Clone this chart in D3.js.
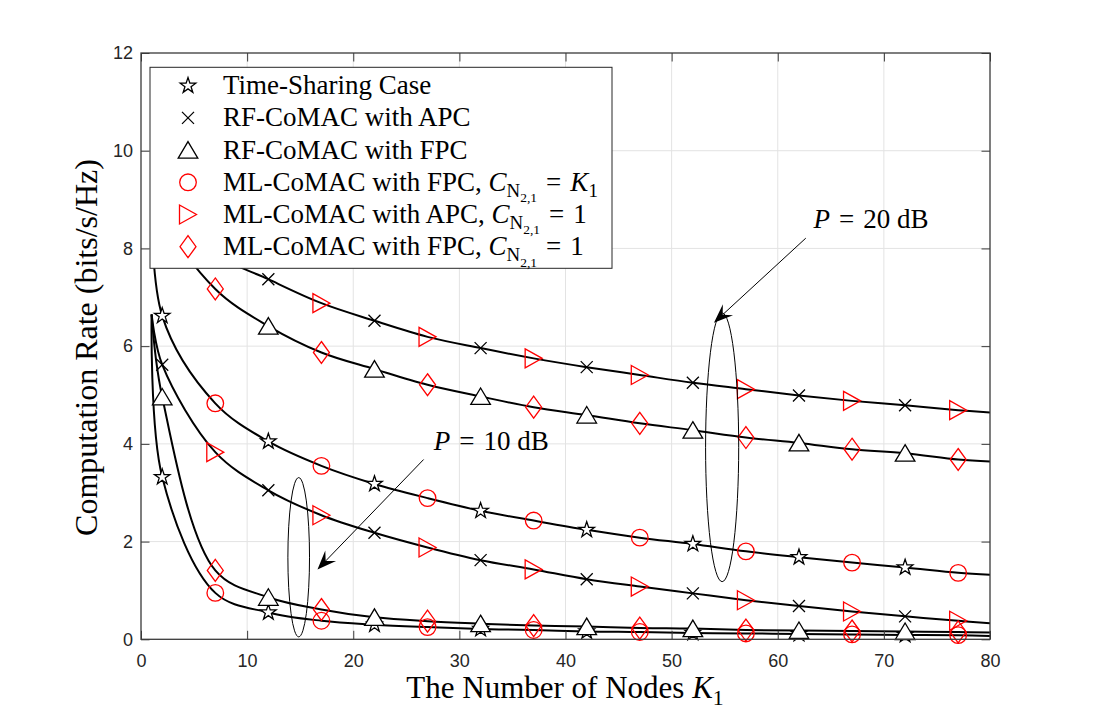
<!DOCTYPE html>
<html>
<head>
<meta charset="utf-8">
<script src="https://cdn.jsdelivr.net/npm/d3@7"></script>
<style>
  body { margin: 0; background: #fff; }
  svg { display: block; }
  .tick text { font-family: "Liberation Sans", Arial, sans-serif; font-size: 18px; fill: #262626; }
  .serif { font-family: "Liberation Serif", "Times New Roman", serif; fill: #000; white-space: pre; }
</style>
</head>
<body>
<svg id="chart" width="1094" height="719"></svg>
<script>
// ---- data ----
// marker positions (every 10 nodes, two interleaved sets)
const kA = [2, 12, 22, 32, 42, 52, 62, 72];
const kB = [7, 17, 27, 37, 47, 57, 67, 77];
const kEnds = [1, 80];

const xTicks = [0, 10, 20, 30, 40, 50, 60, 70, 80];
const yTicks = [0, 2, 4, 6, 8, 10, 12];

// P = 20 dB
const tsHigh     = [6.62, 4.05, 3.18, 2.63, 2.24, 1.95, 1.68, 1.47];   // star, kA
const rfApcHigh  = [9.20, 7.37, 6.52, 5.96, 5.57, 5.25, 4.99, 4.79];   // x, kA
const rfFpcHigh  = [8.70, 6.41, 5.53, 4.97, 4.59, 4.28, 4.02, 3.81];   // triangle, kA
const mlFpcKHigh = [4.83, 3.55, 2.89, 2.43, 2.08, 1.80, 1.57, 1.36];   // circle, kB
const mlApcHigh  = [7.90, 6.88, 6.19, 5.75, 5.41, 5.12, 4.88, 4.69];   // right triangle, kB
const mlFpcHigh  = [7.17, 5.87, 5.21, 4.75, 4.42, 4.13, 3.89, 3.68];   // diamond, kB
// P = 10 dB
const tsLow      = [3.32, 0.55, 0.30, 0.21, 0.16, 0.13, 0.11, 0.09];
const rfApcLow   = [5.62, 3.05, 2.18, 1.62, 1.23, 0.94, 0.68, 0.47];
const rfFpcLow   = [4.96, 0.86, 0.45, 0.32, 0.26, 0.22, 0.18, 0.16];
const mlFpcKLow  = [0.95, 0.38, 0.25, 0.19, 0.15, 0.12, 0.10, 0.085];
const mlApcLow   = [3.83, 2.54, 1.88, 1.43, 1.08, 0.80, 0.57, 0.38];
const mlFpcLow   = [1.41, 0.61, 0.37, 0.28, 0.23, 0.19, 0.17, 0.15];

// curve values at K1 = 1 and K1 = 80
const apcHighEnds = [9.97, 4.64];
const fpcHighEnds = [9.97, 3.64];
const tsHighEnds  = [9.97, 1.32];
const apcLowEnds  = [6.65, 0.33];
const fpcLowEnds  = [6.65, 0.14];
const tsLowEnds   = [6.65, 0.07];

// legend
const legendSymbols = ['star', 'cross', 'triangle', 'circle', 'right', 'diamond'];
const legendColors = ['#000', '#000', '#000', '#ff0000', '#ff0000', '#ff0000'];
const subN = [{ t: 'C', it: true }, { t: 'N', s: 0.7, sh: 0.22 }, { t: '2,1', s: 0.5, sh: 0.42 }];
const eq = '\u2004=\u2004';
const legendLabels = [
  [{ t: 'Time-Sharing Case' }],
  [{ t: 'RF-CoMAC with APC' }],
  [{ t: 'RF-CoMAC with FPC' }],
  [{ t: 'ML-CoMAC with FPC, ' }, ...subN, { t: eq }, { t: 'K', it: true }, { t: '1', s: 0.7, sh: 0.22 }],
  [{ t: 'ML-CoMAC with APC, ' }, ...subN, { t: eq + '1' }],
  [{ t: 'ML-CoMAC with FPC, ' }, ...subN, { t: eq + '1' }]
];

// annotations (data coordinates)
const ellipses = [
  { cx: 54.76, cy: 3.93, rx: 1.56, ry: 2.75 },
  { cx: 14.86, cy: 1.68, rx: 1.02, ry: 1.63 }
];
const arrows = [
  { x0: 62.64, y0: 8.21, x1: 53.99, y1: 6.48 },
  { x0: 26.63, y0: 3.68, x1: 16.63, y1: 1.43 }
];
const notes = [
  { x: 63.37, y: 8.41, value: '20' },
  { x: 27.58, y: 3.875, value: '10' }
];

// ---- chart ----
const svg = d3.select('#chart');
const x = d3.scaleLinear().domain([0, 80]).range([141, 990]);
const y = d3.scaleLinear().domain([0, 12]).range([639.3, 53]);

svg.append('rect').attr('width', 1094).attr('height', 719).attr('fill', '#fff');

// grid
const grid = svg.append('g').attr('stroke', '#e3e3e3').attr('stroke-width', 1);
grid.selectAll('.gx').data(xTicks.slice(1, -1)).enter().append('line')
  .attr('x1', d => x(d)).attr('x2', d => x(d)).attr('y1', y(0)).attr('y2', y(12));
grid.selectAll('.gy').data(yTicks.slice(1, -1)).enter().append('line')
  .attr('x1', x(0)).attr('x2', x(80)).attr('y1', d => y(d)).attr('y2', d => y(d));

// merge two marker series into one curve
function pairLine(valsA, valsB, ends) {
  const pts = [[kEnds[0], ends[0]], [kEnds[1], ends[1]]];
  kA.forEach((k, i) => pts.push([k, valsA[i]]));
  kB.forEach((k, i) => pts.push([k, valsB[i]]));
  return pts.sort((a, b) => a[0] - b[0]);
}

const curves = [
  pairLine(rfApcHigh, mlApcHigh, apcHighEnds),
  pairLine(rfFpcHigh, mlFpcHigh, fpcHighEnds),
  pairLine(tsHigh, mlFpcKHigh, tsHighEnds),
  pairLine(rfApcLow, mlApcLow, apcLowEnds),
  pairLine(rfFpcLow, mlFpcLow, fpcLowEnds),
  pairLine(tsLow, mlFpcKLow, tsLowEnds)
];

svg.append('clipPath').attr('id', 'plotClip').append('rect')
  .attr('x', x(0)).attr('y', y(12)).attr('width', x(80) - x(0)).attr('height', y(0) - y(12));

const line = d3.line()
  .x(d => x(d[0]))
  .y(d => y(d[1]))
  .curve(d3.curveCatmullRom.alpha(0.5));

svg.append('g').attr('clip-path', 'url(#plotClip)')
  .selectAll('path').data(curves).enter().append('path')
  .attr('fill', 'none')
  .attr('stroke', '#000')
  .attr('stroke-width', 2)
  .attr('d', line);

// marker shapes
function symbolPath(type) {
  switch (type) {
    case 'star': {
      const R = 8.2, r = 3.2, p = [];
      for (let i = 0; i < 10; i++) {
        const a = -Math.PI / 2 + i * Math.PI / 5, rr = i % 2 ? r : R;
        p.push([rr * Math.cos(a), rr * Math.sin(a)]);
      }
      return 'M' + p.map(q => q.join(',')).join('L') + 'Z';
    }
    case 'cross': return 'M-6,-6L6,6M-6,6L6,-6';
    case 'triangle': return 'M0,-8.5L9.8,8L-9.8,8Z';
    case 'circle': return 'M8.3,0A8.3,8.3 0 1,1 -8.3,0A8.3,8.3 0 1,1 8.3,0Z';
    case 'right': return 'M-8.5,-9.5L8.5,0L-8.5,9.5Z';
    case 'diamond': return 'M0,-11L8,0L0,11L-8,0Z';
  }
}
const filled = { star: '#fff', triangle: '#fff' };

const markerSeries = [
  { ks: kA, vals: tsHigh, sym: 'star', color: '#000' },
  { ks: kA, vals: rfApcHigh, sym: 'cross', color: '#000' },
  { ks: kA, vals: rfFpcHigh, sym: 'triangle', color: '#000' },
  { ks: kB, vals: mlFpcKHigh, sym: 'circle', color: '#ff0000' },
  { ks: kB, vals: mlApcHigh, sym: 'right', color: '#ff0000' },
  { ks: kB, vals: mlFpcHigh, sym: 'diamond', color: '#ff0000' },
  { ks: kA, vals: tsLow, sym: 'star', color: '#000' },
  { ks: kA, vals: rfApcLow, sym: 'cross', color: '#000' },
  { ks: kA, vals: rfFpcLow, sym: 'triangle', color: '#000' },
  { ks: kB, vals: mlFpcKLow, sym: 'circle', color: '#ff0000' },
  { ks: kB, vals: mlApcLow, sym: 'right', color: '#ff0000' },
  { ks: kB, vals: mlFpcLow, sym: 'diamond', color: '#ff0000' }
];

markerSeries.forEach(s => {
  svg.append('g').selectAll('path')
    .data(s.ks.map((k, i) => [k, s.vals[i]]))
    .enter().append('path')
    .attr('transform', d => `translate(${x(d[0])},${y(d[1])})`)
    .attr('d', symbolPath(s.sym))
    .attr('fill', filled[s.sym] || 'none')
    .attr('stroke', s.color)
    .attr('stroke-width', 1.3);
});

// axes box with inward ticks on every side
const axisColor = '#3a3a3a';
function styleAxis(g) {
  g.select('.domain').remove();
  g.selectAll('.tick line').attr('stroke', axisColor).attr('stroke-width', 1);
}
svg.append('g').attr('transform', `translate(0,${y(0)})`)
  .call(d3.axisBottom(x).tickValues(xTicks).tickSizeInner(-8.5).tickSizeOuter(0).tickPadding(15))
  .call(styleAxis);
svg.append('g').attr('transform', `translate(${x(0)},0)`)
  .call(d3.axisLeft(y).tickValues(yTicks).tickSizeInner(-8.5).tickSizeOuter(0).tickPadding(8))
  .call(styleAxis);
svg.append('g').attr('transform', `translate(0,${y(12)})`)
  .call(d3.axisTop(x).tickValues(xTicks).tickSizeInner(-8.5).tickSizeOuter(0).tickFormat(''))
  .call(styleAxis);
svg.append('g').attr('transform', `translate(${x(80)},0)`)
  .call(d3.axisRight(y).tickValues(yTicks).tickSizeInner(-8.5).tickSizeOuter(0).tickFormat(''))
  .call(styleAxis);
svg.append('rect')
  .attr('x', x(0)).attr('y', y(12)).attr('width', x(80) - x(0)).attr('height', y(0) - y(12))
  .attr('fill', 'none').attr('stroke', axisColor).attr('stroke-width', 1.3);

// rich text helper: parts with italic / scale / baseline shift (em)
function richText(g, parts, size) {
  const t = g.append('text').attr('class', 'serif').style('font-size', size + 'px');
  let cur = 0;
  parts.forEach(p => {
    const sh = (p.sh || 0) * size;
    t.append('tspan')
      .attr('dy', sh - cur)
      .style('font-size', (p.s || 1) * size + 'px')
      .style('font-style', p.it ? 'italic' : 'normal')
      .text(p.t);
    cur = sh;
  });
  return t;
}

// legend
const legend = svg.append('g');
legend.append('rect')
  .attr('x', 150).attr('y', 67.3).attr('width', 462).attr('height', 201)
  .attr('fill', '#fff').attr('stroke', '#262626').attr('stroke-width', 1);
legendLabels.forEach((parts, i) => {
  const cy = 85.7 + i * 32.2;
  legend.append('path')
    .attr('transform', `translate(188,${cy})`)
    .attr('d', symbolPath(legendSymbols[i]))
    .attr('fill', filled[legendSymbols[i]] || 'none')
    .attr('stroke', legendColors[i])
    .attr('stroke-width', 1.3);
  richText(legend, parts, 27)
    .attr('x', 223).attr('y', cy + 8.5);
});

// ellipses and arrows
svg.append('g').selectAll('ellipse').data(ellipses).enter().append('ellipse')
  .attr('cx', d => x(d.cx)).attr('cy', d => y(d.cy))
  .attr('rx', d => x(d.rx) - x(0)).attr('ry', d => y(0) - y(d.ry))
  .attr('fill', 'none').attr('stroke', '#000').attr('stroke-width', 1);

arrows.forEach(a => {
  const sx = x(a.x0), sy = y(a.y0), tx = x(a.x1), ty = y(a.y1);
  const len = Math.hypot(tx - sx, ty - sy);
  const ux = (tx - sx) / len, uy = (ty - sy) / len, nx = -uy, ny = ux;
  const L = 19, W = 7.5;
  const bx = tx - ux * L, by = ty - uy * L;
  const mx = tx - ux * L * 0.62, my = ty - uy * L * 0.62;
  svg.append('line')
    .attr('x1', sx).attr('y1', sy).attr('x2', mx).attr('y2', my)
    .attr('stroke', '#000').attr('stroke-width', 1);
  svg.append('path')
    .attr('d', `M${tx},${ty}L${bx + nx * W},${by + ny * W}L${mx},${my}L${bx - nx * W},${by - ny * W}Z`)
    .attr('fill', '#000');
});

notes.forEach(n => {
  richText(svg, [{ t: 'P', it: true }, { t: eq + n.value + ' dB' }], 27)
    .attr('x', x(n.x)).attr('y', y(n.y));
});

// axis titles
richText(svg, [{ t: 'The Number of Nodes ' }, { t: 'K', it: true }, { t: '1', s: 0.7, sh: 0.22 }], 31)
  .attr('x', 565).attr('y', 698).attr('text-anchor', 'middle');
richText(svg, [{ t: 'Computation Rate (bits/s/Hz)' }], 32)
  .attr('text-anchor', 'middle')
  .attr('transform', 'translate(97,347.5) rotate(-90)');
</script>
</body>
</html>
